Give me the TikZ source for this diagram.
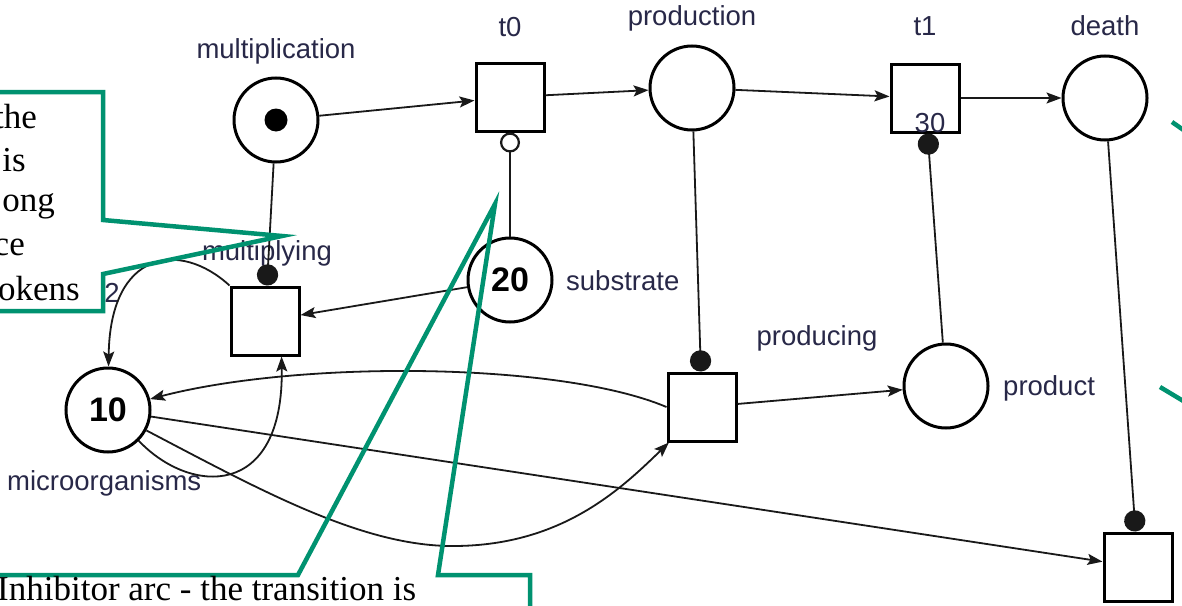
\documentclass[tikz,border=0pt]{standalone}
\usepackage{fontspec}
\setmainfont{Liberation Serif}
\setsansfont{Liberation Sans}
\usetikzlibrary{arrows.meta}

\definecolor{calloutgreen}{RGB}{0,146,112}
\definecolor{labelink}{RGB}{40,40,72}
\definecolor{arcink}{RGB}{25,25,25}

\begin{document}
\begin{tikzpicture}[x=1pt,y=-1pt,
  place/.style={circle,draw=black,line width=3pt,minimum size=84pt,inner sep=0pt,fill=white},
  trans/.style={rectangle,draw=black,line width=3pt,minimum size=68pt,inner sep=0pt,fill=white},
  lbl/.style={font=\sffamily\fontsize{27.5}{32}\selectfont,text=labelink,anchor=base,inner sep=0pt},
  tok/.style={font=\sffamily\bfseries\fontsize{34}{38}\selectfont,text=black},
  arc/.style={draw=arcink,line width=1.8pt,-{Stealth[length=15pt,width=11pt,inset=3pt]}},
  readarc/.style={draw=arcink,line width=1.8pt,-{Circle[length=17pt,width=17pt,scale=1.25]}},
  inhibarc/.style={draw=arcink,line width=1.8pt,-{Circle[open,length=16pt,width=16pt,line width=2.2pt,scale=1.25]}},
  callout/.style={draw=calloutgreen,line width=4.5pt,line join=miter},
  callouttext/.style={font=\fontsize{35}{42}\selectfont,anchor=base east,inner sep=0pt}
]
\fill[white] (0,0) rectangle (1182,605);
\useasboundingbox (0,0) rectangle (1182,605);

% places and transitions
\node[place] (mult) at (276,120) {};
\node[circle,fill=black,minimum size=23pt,inner sep=0pt] (multtoken) at (mult) {};
\node[trans] (t0) at (510,97) {};
\node[place] (prod) at (692,88) {};
\node[trans] (t1) at (925,98) {};
\node[place] (death) at (1105,98) {};
\node[place,tok] (sub) at (510,280) {20};
\node[trans] (mtr) at (265,321) {};
\node[trans] (ptr) at (702,407) {};
\node[place] (product) at (946,386) {};
\node[place,tok] (micro) at (108,410) {10};
\node[trans] (dtr) at (1138,567) {};

% labels
\node[lbl] (lmult) at (276,58) {multiplication};
\node[lbl] (lt0) at (510,36) {t0};
\node[lbl] (lprod) at (692,25) {production};
\node[lbl] (lt1) at (925,35) {t1};
\node[lbl] (ldeath) at (1105,35) {death};
\node[lbl] (lmtr) at (267,260) {multiplying};
\node[lbl,anchor=base west] (lsub) at (566,290) {substrate};
\node[lbl] (lptr) at (817,345) {producing};
\node[lbl,anchor=base west] (lproduct) at (1003,395) {product};
\node[lbl,anchor=base west] (lmicro) at (7,490) {microorganisms};
\node[lbl] (lt1w) at (930,132) {30};
\node[lbl] (lw) at (112,302) {2};

% arcs
\draw[arc] (mult) -- (t0);
\draw[arc] (t0) -- (prod);
\draw[arc] (prod) -- (t1);
\draw[arc] (t1) -- (death);
\draw[readarc] (mult) -- (mtr);
\draw[inhibarc] (sub) -- (t0);
\draw[arc] (sub) -- (mtr);
\draw[readarc] (prod) -- (ptr);
\draw[readarc] (product) -- (t1);
\draw[readarc] (death) -- (dtr);
\draw[arc] (ptr) -- (product);
\draw[arc] (ptr.west) .. controls (560,362) and (300,360) .. (micro);
\draw[arc] (micro) -- (dtr);
\draw[arc] (micro.-28) .. controls (260,490) and (360,545) .. (450,546)
  .. controls (560,547) and (620,490) .. (ptr.-133);
\draw[arc] (micro.-45) .. controls (190,495) and (284,500) .. (mtr.-65);
\draw[arc] (mtr.north west) .. controls (180,240) and (110,250) .. (micro);

% callouts
\draw[callout] (-10,92) -- (103,92) -- (103,220) -- (282,236) -- (103,274) -- (103,311) -- (-10,311);
\node[callouttext] (c1a) at (37,128) {the};
\node[callouttext] (c1b) at (26,171) {is};
\node[callouttext] (c1c) at (55,211) {ong};
\node[callouttext] (c1d) at (25,255) {ce};
\node[callouttext] (c1e) at (80,300) {okens};

\draw[callout] (-10,575) -- (298,575) -- (495,204) -- (438,575) -- (530,575) -- (530,615);
\node[callouttext,anchor=base west] (c2) at (-3,600) {Inhibitor arc - the transition is};

\draw[callout] (1172,122) -- (1195,138);
\draw[callout] (1160,387) -- (1195,408);
\end{tikzpicture}
\end{document}
